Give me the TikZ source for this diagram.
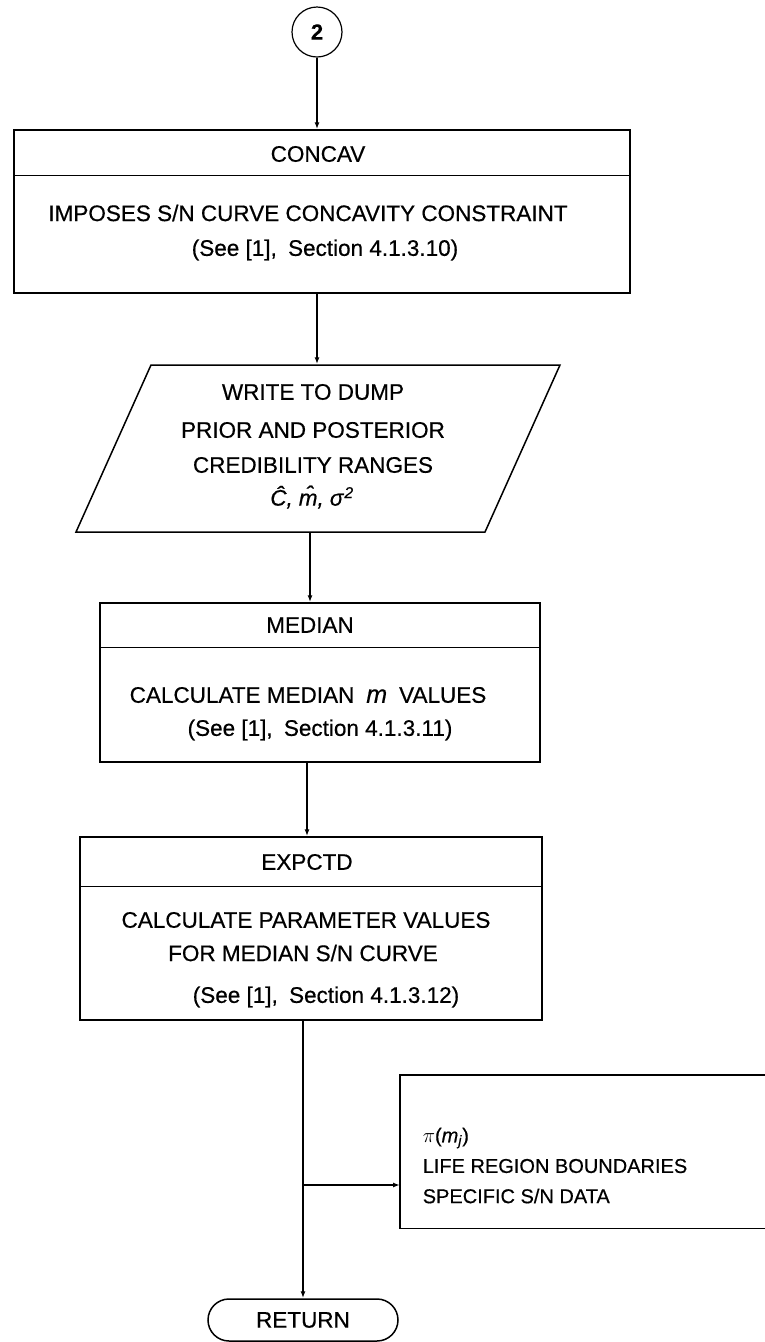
\documentclass[tikz,border=0pt]{standalone}
\usepackage{fontspec}
\setmainfont{Liberation Sans}[FakeBold=0.5]
\usetikzlibrary{arrows.meta,shapes.misc}
\begin{document}
\begin{tikzpicture}[x=1pt,y=-1pt, line width=1.5pt,
  every node/.style={inner sep=0pt, font=\fontsize{22.5}{27}\selectfont},
  boxshape/.style={draw, rectangle, inner sep=0pt},
  sidetxt/.style={anchor=west, font=\fontsize{20}{24}\selectfont},
  arr/.style={-{Latex[length=7pt,width=5pt]}}]
\useasboundingbox (0,0) rectangle (765,1342);

% connector circle
\node[draw, circle, minimum size=50pt, line width=1.2pt, font=\fontsize{22}{26}\selectfont\bfseries] (c2) at (317,32) {2};

% CONCAV
\node[boxshape, minimum width=616pt, minimum height=163pt] (concav) at (322,211.5) {};
\draw ([yshift=-46pt]concav.north west) -- ([yshift=-46pt]concav.north east);
\node (concavT) at (318,154) {CONCAV};
\node (concavA) at (308,213) {IMPOSES S/N CURVE CONCAVITY CONSTRAINT};
\node (concavB) at (325,250) {(See [1],\hspace{0.5em}Section 4.1.3.10)};

% parallelogram
\node[minimum width=409pt, minimum height=167pt] (para) at (318,448.5) {};
\draw (151,365) -- (560,365) -- (485,532) -- (76,532) -- cycle;
\node (paraA) at (313,392) {WRITE TO DUMP};
\node (paraB) at (313,430) {PRIOR AND POSTERIOR};
\node (paraC) at (313,465) {CREDIBILITY RANGES};
\node (paraD) at (312,497) {\itshape \^{C},\hspace{6pt}\^{m},\hspace{6pt}σ\hspace{1pt}\textsuperscript{2}};

% MEDIAN
\node[boxshape, minimum width=440pt, minimum height=159pt] (median) at (320,682.5) {};
\draw ([yshift=-45pt]median.north west) -- ([yshift=-45pt]median.north east);
\node (medT) at (310,625) {MEDIAN};
\node (medA) at (308,695) {CALCULATE MEDIAN\hspace{12pt}{\fontsize{25}{27}\selectfont\itshape m}\hspace{12pt}VALUES};
\node (medB) at (320,730) {(See [1],\hspace{0.5em}Section 4.1.3.11)};

% EXPCTD
\node[boxshape, minimum width=462pt, minimum height=183pt] (expctd) at (311,928.5) {};
\draw ([yshift=-50pt]expctd.north west) -- ([yshift=-50pt]expctd.north east);
\node (expT) at (307,862) {EXPCTD};
\node (expA) at (306,920) {CALCULATE PARAMETER VALUES};
\node (expB) at (303,953) {FOR MEDIAN S/N CURVE};
\node (expC) at (326,997) {(See [1],\hspace{0.5em}Section 4.1.3.12)};

% side data box
\node[anchor=north west, minimum width=400pt, minimum height=152pt] (side) at (400,1075) {};
\draw (side.north east) -- (side.north west) -- (side.south west) -- (side.south east);
\node[sidetxt] (sideA) at (422,1138) {$\pi$(\textit{m}\textsubscript{\textit{j}})};
\node[sidetxt] (sideB) at (422,1166) {LIFE REGION BOUNDARIES};
\node[sidetxt] (sideC) at (422,1196) {SPECIFIC S/N DATA};

% RETURN terminal
\node[draw, rounded rectangle, minimum width=190pt, minimum height=42pt] (ret) at (303,1320) {RETURN};

% connectors
\draw[arr] (c2) -- (c2 |- concav.north);
\draw[arr] (concav.south -| c2) -- (c2 |- para.north);
\draw[arr] (para.south -| medT) -- (medT |- median.north);
\draw[arr] (median.south -| expT) -- (expT |- expctd.north);
\draw[arr] (expctd.south -| ret) -- (ret.north);
\coordinate (bj) at (303,1185);
\draw[arr] (bj) -- (bj -| side.west);
\end{tikzpicture}
\end{document}
